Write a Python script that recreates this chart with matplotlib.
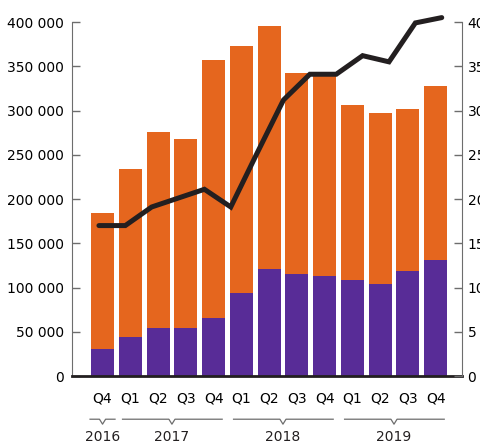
import matplotlib
matplotlib.use("Agg")
import matplotlib.pyplot as plt
import matplotlib.transforms as mtransforms
import numpy as np

# Quarterly values
quarters = ["Q4", "Q1", "Q2", "Q3", "Q4", "Q1", "Q2", "Q3", "Q4", "Q1", "Q2", "Q3", "Q4"]
years = ["2016", "2017", "2018", "2019"]
year_counts = [1, 4, 4, 4]

purple_vals = [31000, 44000, 54000, 54000, 65500, 94000, 121000, 115000, 113000, 108500, 104000, 118500, 131000]
totals = [184000, 234000, 276000, 268000, 357000, 373000, 395500, 342000, 339000, 306000, 297000, 301500, 327500]
orange_vals = [t - p for t, p in zip(totals, purple_vals)]

# Line on the right axis (finer steps than the bars)
line_vals = [17, 17, 19.1, 20.1, 21.1, 19.1, 25.2, 31.2, 34.1, 34.1, 36.2, 35.5, 39.9, 40.5]

left_ticks = [0, 50000, 100000, 150000, 200000, 250000, 300000, 350000, 400000]
left_labels = ["0", "50 000", "100 000", "150 000", "200 000", "250 000", "300 000", "350 000", "400 000"]
right_ticks = [0, 5, 10, 15, 20, 25, 30, 35, 40]

ORANGE = "#E5661E"
PURPLE = "#582C97"
DARK = "#231F20"
GREY = "#6d6d6d"

plt.rcParams["font.family"] = ["Liberation Sans Narrow", "DejaVu Sans"]
plt.rcParams["font.size"] = 10
plt.rcParams["text.color"] = "#231F20"

fig = plt.figure(figsize=(4.81, 4.45), dpi=100)
ax = fig.add_axes([0.1497, 0.155, 0.8108, 0.7955])

x = np.arange(len(quarters))
ax.bar(x, purple_vals, width=0.83, color=PURPLE, zorder=2)
ax.bar(x, orange_vals, width=0.83, bottom=purple_vals, color=ORANGE, zorder=2)

ax.set_xlim(-1.1, 12.95)
ax.set_ylim(0, 400000)
ax.set_yticks(left_ticks)
ax.set_yticklabels(left_labels)
ax.set_xticks(x)
ax.set_xticklabels(quarters)
ax.tick_params(axis="x", length=0, pad=11)
ax.tick_params(axis="y", direction="in", length=6, width=1, color=GREY, pad=6)

ax.spines["top"].set_visible(False)
ax.spines["left"].set_color(GREY)
ax.spines["right"].set_visible(False)
ax.spines["bottom"].set_color(DARK)
ax.spines["bottom"].set_linewidth(2)
ax.spines["bottom"].set_zorder(4)

ax2 = ax.twinx()
ax2.set_ylim(0, 40)
ax2.set_yticks(right_ticks)
ax2.tick_params(axis="y", direction="in", length=6, width=1, color=GREY, pad=4)
for side in ["top", "left", "bottom"]:
    ax2.spines[side].set_visible(False)
ax2.spines["right"].set_color(GREY)

line_x = np.linspace(-0.13, 12.22, len(line_vals))
ax2.plot(line_x, line_vals, color=DARK, lw=3.6, solid_capstyle="round",
         solid_joinstyle="miter", clip_on=False, zorder=5)

# Year brackets under the quarter labels
trans = mtransforms.blended_transform_factory(ax.transData, ax.transAxes)
start = 0
for year, n in zip(years, year_counts):
    first, last = start, start + n - 1
    if n == 1:
        x0, x1 = first - 0.45, last + 0.45
    else:
        x0, x1 = first - 0.28, last + 0.31
    mid = (first + last) / 2
    ax.plot([x0, mid - 0.11, mid, mid + 0.11, x1],
            [-0.122, -0.122, -0.136, -0.122, -0.122],
            color=GREY, lw=0.9, transform=trans, clip_on=False)
    ax.text(mid, -0.172, year, ha="center", va="center", transform=trans)
    start += n

fig.savefig("out.png", dpi=100)
